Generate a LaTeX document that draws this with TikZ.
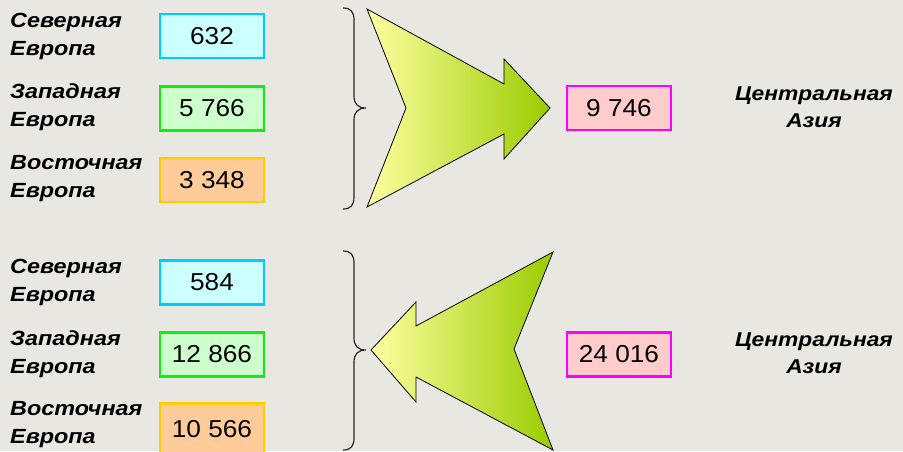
\documentclass[tikz,border=0pt]{standalone}
\usepackage{fontspec}
\setmainfont{Liberation Sans}
\newfontfamily\lblfont{Liberation Sans}[FakeStretch=1.14]
\newfontfamily\numfont{Liberation Sans}[FakeStretch=1.07]
\definecolor{bg}{RGB}{233,231,226}
\definecolor{cyanB}{RGB}{0,204,255}
\definecolor{cyanF}{RGB}{204,255,255}
\definecolor{greenB}{RGB}{20,235,20}
\definecolor{greenF}{RGB}{204,255,204}
\definecolor{orangeB}{RGB}{255,204,0}
\definecolor{orangeF}{RGB}{255,204,153}
\definecolor{pinkB}{RGB}{255,0,255}
\definecolor{pinkF}{RGB}{255,204,204}
\definecolor{arrL}{RGB}{255,255,160}
\definecolor{arrR}{RGB}{153,204,0}
\tikzset{
  lbl/.style={anchor=west,align=left,font={\lblfont\bfseries\itshape\fontsize{20.5}{28}\selectfont},inner sep=0pt},
  asia/.style={align=center,font={\lblfont\bfseries\itshape\fontsize{20}{27.5}\selectfont},inner sep=0pt},
  valbox/.style={draw,line width=2.5pt,minimum width=104pt,minimum height=44pt,inner sep=0pt,font={\numfont\fontsize{24.5}{26}\selectfont}},
  bigarrow/.style={draw=black,line width=0.8pt,left color=arrL,right color=arrR,line join=miter},
  bracestyle/.style={draw=black!85,line width=1.2pt}
}
\begin{document}
\begin{tikzpicture}[x=1pt,y=-1pt]
\useasboundingbox (0,0) rectangle (903,451);
\clip (0,0) rectangle (903,451);
\fill[bg] (0,0) rectangle (903,451);

% ---------- top group ----------
\node[lbl] (ln1) at (10,36) {Северная\\Европа};
\node[lbl] (lw1) at (10,107.5) {Западная\\Европа};
\node[lbl] (le1) at (10,179) {Восточная\\Европа};
\node[valbox,draw=cyanB,fill=cyanF] (bn1) at (212,36) {632};
\node[valbox,draw=greenB,fill=greenF] (bw1) at (212,108.5) {5 766};
\node[valbox,draw=orangeB,fill=orangeF] (be1) at (212,180) {3 348};

\path[bracestyle] (343,8) .. controls (351,8) and (354,12) .. (354,20) -- (354,96)
  .. controls (354,104) and (358,108) .. (366,108)
  .. controls (358,108) and (354,112) .. (354,120) -- (354,197)
  .. controls (354,205) and (351,209) .. (343,209);

\path[bigarrow] (367,9) -- (504,84) -- (504,59) -- (550,108) -- (504,159) -- (504,134) -- (367,207) -- (406,108) -- cycle;

\node[valbox,draw=pinkB,fill=pinkF] (ca1) at (619,108) {9 746};
\node[asia] (t1) at (814,107) {Центральная\\Азия};

% ---------- bottom group ----------
\node[lbl] (ln2) at (10,282.5) {Северная\\Европа};
\node[lbl] (lw2) at (10,354) {Западная\\Европа};
\node[lbl] (le2) at (10,425) {Восточная\\Европа};
\node[valbox,draw=cyanB,fill=cyanF] (bn2) at (212,282.5) {584};
\node[valbox,draw=greenB,fill=greenF] (bw2) at (212,354.5) {12 866};
\node[valbox,draw=orangeB,fill=orangeF,minimum height=50pt,text depth=0pt] (be2) at (212,428.5) {10 566};

\path[bracestyle] (343,251) .. controls (351,251) and (354,255) .. (354,263) -- (354,338)
  .. controls (354,346) and (358,350) .. (366,350)
  .. controls (358,350) and (354,354) .. (354,362) -- (354,438)
  .. controls (354,446) and (351,450) .. (343,450);

\path[bigarrow] (371,350) -- (416,302) -- (416,326) -- (553,252) -- (514,349) -- (553,450) -- (416,377) -- (416,402) -- cycle;

\node[valbox,draw=pinkB,fill=pinkF] (ca2) at (619,354.5) {24 016};
\node[asia] (t2) at (814,353) {Центральная\\Азия};
\end{tikzpicture}
\end{document}
